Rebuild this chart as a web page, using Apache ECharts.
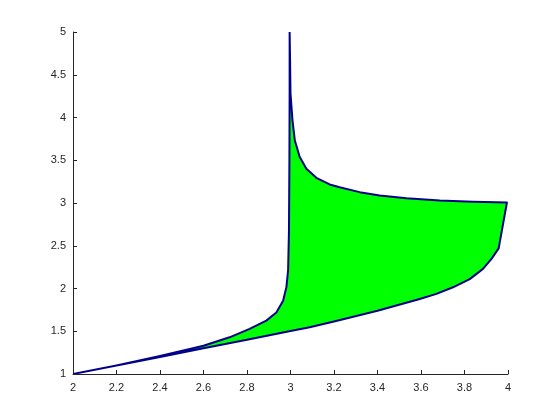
<!DOCTYPE html>
<html>
<head>
<meta charset="utf-8">
<script src="https://cdn.jsdelivr.net/npm/echarts@6/dist/echarts.min.js"></script>
<style>
  html, body { margin: 0; padding: 0; background: #fff; }
  #chart { width: 560px; height: 420px; }
</style>
</head>
<body>
<div id="chart"></div>
<script>
// left branch: from (2,1) up to the asymptote near x = 3
let leftX = [2.0, 2.2, 2.4, 2.6, 2.72, 2.812, 2.889, 2.935, 2.966, 2.981, 2.989, 2.993, 2.995, 2.996, 2.996];
let leftY = [1.0, 1.10, 1.21, 1.33, 1.429, 1.527, 1.624, 1.72, 1.858, 2.014, 2.21, 2.68, 3.5, 4.3, 5.0];
// top branch: from (3,5) down to (4,3)
let topX = [2.996, 2.998, 3.0, 3.009, 3.02, 3.042, 3.073, 3.119, 3.18, 3.226, 3.318, 3.41, 3.533, 3.686, 3.839, 3.995];
let topY = [5.0, 4.67, 4.28, 3.97, 3.73, 3.54, 3.40, 3.295, 3.217, 3.185, 3.127, 3.088, 3.056, 3.03, 3.014, 3.005];
// right edge and lower branch: from (4,3) back to (2,1)
let lowX = [3.995, 3.957, 3.924, 3.885, 3.824, 3.747, 3.671, 3.594, 3.4, 3.2, 3.088, 3.0, 2.8, 2.6, 2.4, 2.2, 2.0];
let lowY = [3.005, 2.47, 2.346, 2.23, 2.11, 2.014, 1.937, 1.878, 1.74, 1.615, 1.546, 1.503, 1.40, 1.30, 1.20, 1.10, 1.0];

let xTicks = [2, 2.2, 2.4, 2.6, 2.8, 3, 3.2, 3.4, 3.6, 3.8, 4];
let yTicks = [1, 1.5, 2, 2.5, 3, 3.5, 4, 4.5, 5];

let points = [];
leftX.forEach((x, i) => points.push([x, leftY[i]]));
topX.forEach((x, i) => points.push([x, topY[i]]));
lowX.forEach((x, i) => points.push([x, lowY[i]]));

let myChart = echarts.init(document.getElementById('chart'));
let axisColor = '#262626';
let labelStyle = { color: axisColor, fontSize: 11, fontFamily: 'Liberation Sans, Arial, sans-serif' };

myChart.setOption({
  backgroundColor: '#ffffff',
  animation: false,
  grid: { left: 73, right: 52, top: 32, bottom: 46, containLabel: false },
  xAxis: {
    type: 'value',
    min: xTicks[0],
    max: xTicks[xTicks.length - 1],
    interval: 0.2,
    splitLine: { show: false },
    axisLine: { show: true, lineStyle: { color: axisColor, width: 1 } },
    axisTick: { show: true, inside: true, length: 4, lineStyle: { color: axisColor } },
    axisLabel: Object.assign({ margin: 8 }, labelStyle)
  },
  yAxis: {
    type: 'value',
    min: yTicks[0],
    max: yTicks[yTicks.length - 1],
    interval: 0.5,
    splitLine: { show: false },
    axisLine: { show: true, lineStyle: { color: axisColor, width: 1 } },
    axisTick: { show: true, inside: true, length: 4, lineStyle: { color: axisColor } },
    axisLabel: Object.assign({ margin: 7 }, labelStyle)
  },
  series: [{
    type: 'custom',
    data: points,
    clip: true,
    renderItem: function (params, api) {
      if (params.dataIndex !== 0) return null;
      let pts = points.map(p => api.coord(p));
      return {
        type: 'polygon',
        shape: { points: pts, smooth: 0 },
        style: { fill: '#00ff00', stroke: '#00008b', lineWidth: 2, lineJoin: 'round' }
      };
    }
  }]
});
</script>
</body>
</html>
